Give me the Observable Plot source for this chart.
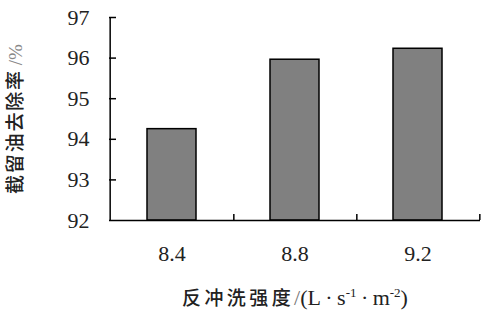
<!DOCTYPE html>
<html><head><meta charset="utf-8">
<script src="https://cdn.jsdelivr.net/npm/d3@7"></script>
<script src="https://cdn.jsdelivr.net/npm/@observablehq/plot@0.6"></script>
<style>body{margin:0;background:#fff}</style>
</head><body><div id="chart"></div>
<script>
const categories = ["8.4", "8.8", "9.2"];
const removalRate = [94.25, 95.96, 96.23];
const yTicks = [92, 93, 94, 95, 96, 97];
const yLabelMain = "截留油去除率";
const yLabelUnit = "/%";
const xLabelMain = "反冲洗强度";

const data = categories.map((c, i) => ({c, v: removalRate[i]}));
const W = 484, H = 316, mL = 109, mR = 4, mT = 17, mB = 96;
const plotW = W - mL - mR, plotH = H - mT - mB;
const step = plotW / categories.length;
const serif = "Liberation Serif";

const chart = Plot.plot({
  width: W, height: H,
  marginLeft: mL, marginRight: mR, marginTop: mT, marginBottom: mB,
  style: {background: "#fff", fontFamily: serif},
  x: {domain: categories, paddingInner: 0.6, paddingOuter: 0.3, label: null},
  y: {domain: [yTicks[0], yTicks[yTicks.length - 1]], label: null},
  marks: [
    Plot.barY(data, {x: "c", y1: yTicks[0], y2: "v", fill: "#808080", stroke: "#000", strokeWidth: 1.5}),
    Plot.axisY(yTicks, {tickSize: 0, tickPadding: 20, fontSize: 22, fill: "#222", label: null}),
    Plot.axisX({tickSize: 0, tickPadding: 25, fontSize: 22, fill: "#222", label: null}),
    Plot.ruleY(yTicks.slice(1), {insetRight: plotW - 7, stroke: "#000", strokeWidth: 1.5}),
    Plot.ruleX(categories, {x: d => d, dx: step / 2, insetTop: plotH - 6, stroke: "#000", strokeWidth: 1.5}),
    Plot.ruleY([yTicks[0]], {stroke: "#000", strokeWidth: 1.5}),
    Plot.ruleX([categories[0]], {x: d => d, dx: -step / 2, stroke: "#000", strokeWidth: 1.5})
  ]
});

const svg = d3.select(chart);
svg.selectAll("g").attr("font-variant", null).attr("font-family", null);
svg.selectAll("text").style("font-family", serif).style("font-variant", "normal");

// y-axis label
const yl = svg.append("text")
  .attr("transform", "translate(22,119) rotate(-90)")
  .attr("text-anchor", "middle");
yl.append("tspan").style("font-family", "Noto Sans CJK SC").attr("font-weight", 500)
  .attr("font-size", 19).attr("letter-spacing", 1.8).attr("fill", "#222").text(yLabelMain);
yl.append("tspan").style("font-family", serif).attr("font-size", 19).attr("dx", 4).attr("fill", "#888").text(yLabelUnit);

// x-axis label
const xl = svg.append("text")
  .attr("x", 295).attr("y", 305)
  .attr("text-anchor", "middle");
xl.append("tspan").style("font-family", "Noto Sans CJK SC").attr("font-weight", 500)
  .attr("font-size", 19).attr("letter-spacing", 3.4).attr("fill", "#222").text(xLabelMain);
const unitParts = [["/", 0], ["(L\u2009·\u2009s", 0], ["-1", -8], ["\u2009·\u2009m", 8], ["-2", -8], [")", 8]];
unitParts.forEach(([t, dy]) => {
  const small = t.startsWith("-");
  xl.append("tspan").style("font-family", serif).attr("font-size", small ? 13 : 22)
    .attr("dy", dy).attr("fill", t === "/" ? "#777" : "#222").text(t);
});

document.getElementById("chart").appendChild(chart);
</script>
</body></html>
